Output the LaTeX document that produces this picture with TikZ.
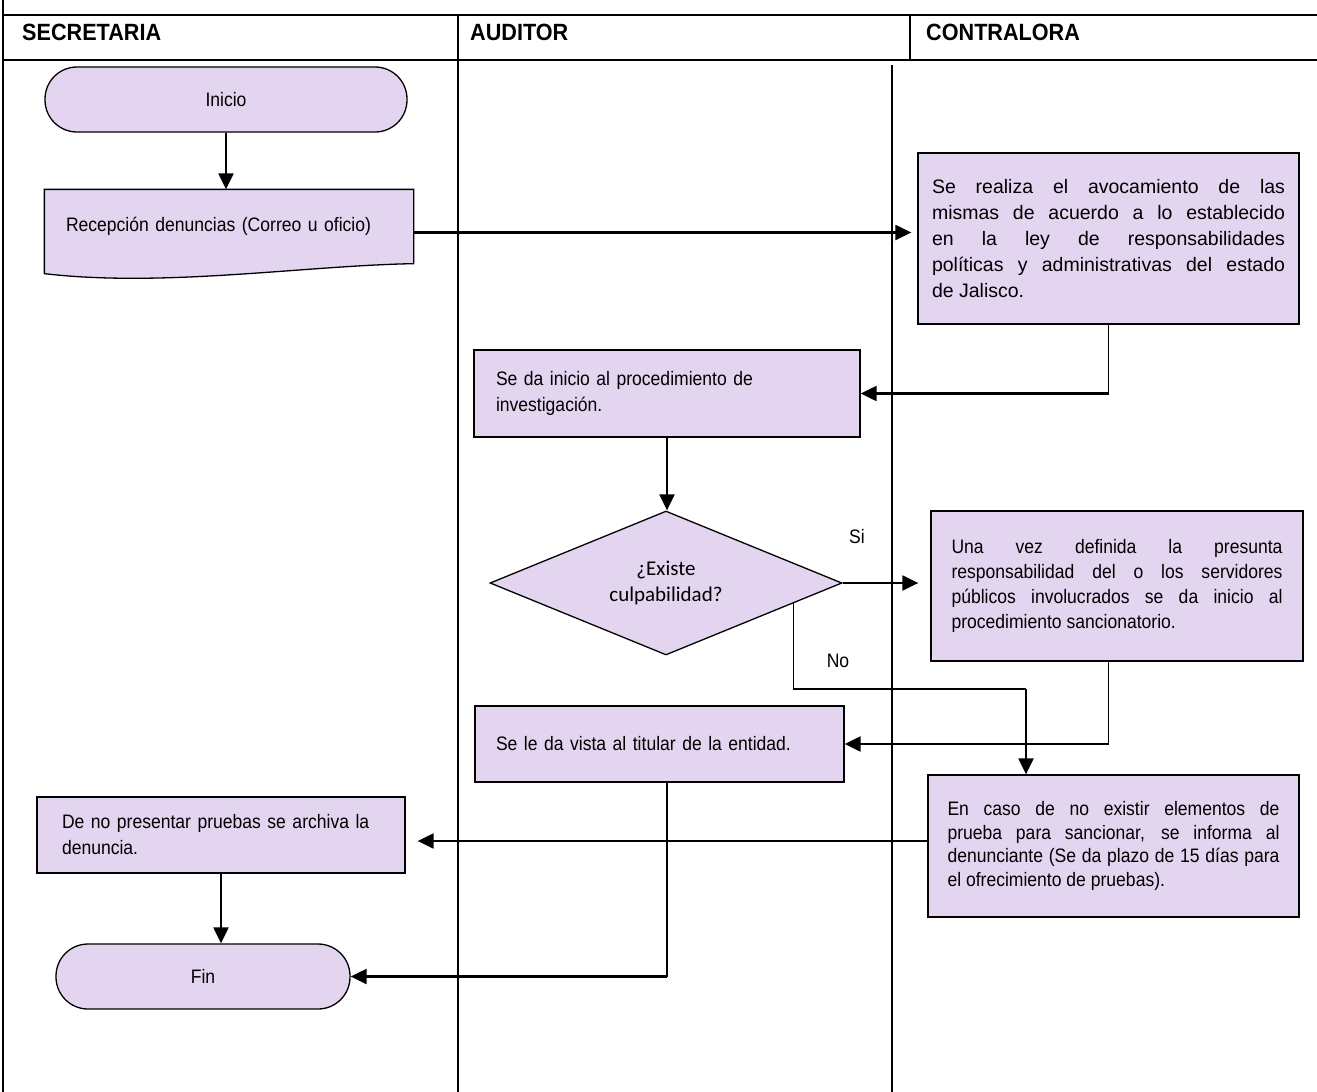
\documentclass[tikz,border=0pt]{standalone}
\usepackage{fontspec}
\setmainfont{Liberation Sans}[FakeStretch=0.9]
\newfontfamily\widefont{Liberation Sans}
\newfontfamily\headfont{Liberation Sans}[FakeStretch=0.92]
\newfontfamily\carlitofont{Carlito}
\usepackage{tikz}
\usetikzlibrary{
	arrows.meta,
	positioning,
	calc,
	shapes.geometric,
	backgrounds
}
\usepackage{xcolor}
\definecolor{lavanda}{RGB}{227,213,240}
\tolerance=9999
\hbadness=10000

\tikzset{
	procbox/.style={draw=black, line width=1.3pt, fill=lavanda, inner xsep=21pt, inner ysep=0pt,
		align=left, font=\fontsize{19.5}{26}\selectfont},
	justbox/.style={procbox, align=justify},
	termbox/.style={draw=black, line width=1.3pt, fill=lavanda, rounded corners=32pt,
		minimum height=65pt, inner sep=0pt, font=\fontsize{19.5}{25}\selectfont},
	decbox/.style={diamond, draw=black, line width=1.3pt, fill=lavanda, minimum width=352pt,
		minimum height=144pt, aspect=2.44, inner sep=0pt, align=center,
		font=\carlitofont\fontsize{21}{26}\selectfont},
	flow/.style={-{Triangle[length=16pt,width=15pt]}, line width=2.2pt},
	thinline/.style={line width=1.2pt},
	lane/.style={line width=1.5pt},
	lanetitle/.style={anchor=west, inner sep=0pt, font=\headfont\bfseries\fontsize{23.5}{26}\selectfont},
	lbl/.style={inner sep=0pt, font=\fontsize{19.5}{25}\selectfont}
}

\begin{document}
\begin{tikzpicture}[x=1pt,y=-1pt]
	\useasboundingbox (0,0) rectangle (1317,1092);
	
	% lanes
	\draw[lane] (3,0) -- (3,1092);
	\draw[lane, line width=2.5pt] (3,15) -- (1317,15);
	\draw[lane, line width=2.5pt] (3,60) -- (1317,60);
	\draw[lane] (458,15) -- (458,1092);
	\draw[lane] (910,15) -- (910,60);
	\draw[lane] (892,65) -- (892,1092);
	
	\node[lanetitle] (tsec) at (22,32) {SECRETARIA};
	\node[lanetitle] (taud) at (470,32) {AUDITOR};
	\node[lanetitle] (tcon) at (926,32) {CONTRALORA};
	
	% steps
	\node[termbox, minimum width=362pt] (inicio) at (226,99.5) {Inicio};
	\node[procbox, draw=none, fill=none, text width=326pt, minimum height=73pt] (recep) at (229,226.5)
		{Recepción denuncias (Correo u oficio)};
	\node[justbox, font=\widefont\fontsize{19.5}{26}\selectfont, text width=353pt, inner xsep=14pt,
		minimum height=171pt] (avoca) at (1108.5,238.5)
		{Se realiza el avocamiento de las\linebreak
		mismas de acuerdo a lo establecido\linebreak
		en la ley de responsabilidades\linebreak
		políticas y administrativas del estado\linebreak
		de Jalisco.};
	\node[procbox, text width=342pt, inner xsep=22pt, minimum height=87pt] (inv) at (667,393.5)
		{Se da inicio al procedimiento de\\investigación.};
	\node[decbox] (decis) at (666,583) {¿Existe\\culpabilidad?};
	\node[justbox, font=\fontsize{19.5}{25}\selectfont, text width=331pt, inner xsep=20.5pt,
		minimum height=150pt] (resp) at (1117,586)
		{Una vez definida la presunta\linebreak
		responsabilidad del o los servidores\linebreak
		públicos involucrados se da inicio al\linebreak
		procedimiento sancionatorio.};
	\node[procbox, text width=327pt, minimum height=76pt] (vista) at (659.5,744)
		{Se le da vista al titular de la entidad.};
	\node[justbox, font=\fontsize{19.5}{23.5}\selectfont, text width=332pt, inner xsep=19.5pt,
		minimum height=142pt] (concl) at (1113.5,846)
		{En caso de no existir elementos de\linebreak
		prueba para sancionar, se informa al\linebreak
		denunciante (Se da plazo de 15 días para\linebreak
		el ofrecimiento de pruebas).};
	\node[procbox, text width=318pt, inner xsep=25pt, minimum height=76pt] (archiva) at (221,835)
		{De no presentar pruebas se archiva la\\denuncia.};
	\node[termbox, minimum width=294pt] (fin) at (203,976.5) {Fin};
	
	\node[lbl] (si) at (857,537) {Si};
	\node[lbl] (no) at (838,661) {No};
	
	% document shape
	\begin{scope}[on background layer]
		\draw[line width=1.3pt, fill=lavanda] (recep.north west) -- (recep.north east) -- (recep.south east)
			.. controls ($(recep.south east)+(-110,2)$) and ($(recep.south west)+(120,24)$)
			.. ($(recep.south west)+(0,10)$) -- cycle;
	\end{scope}
	
	\coordinate (nostart) at ($(decis.east)!0.28!(decis.south)$);
	\coordinate (noturn) at (1026,689);
	\coordinate (avocaturn) at (avoca.south |- inv.east);
	\coordinate (respturn) at (avoca.south |- vista.east);
	\coordinate (vistaturn) at (inv.south |- fin.east);
	
	% connectors
	\draw[flow] (inicio.south) -- (inicio.south |- recep.north);
	\draw[flow, shorten >=6pt] ([yshift=-6pt]recep.east) -- ([yshift=-6pt]recep.east -| avoca.west);
	\draw[thinline] (avoca.south) -- (avocaturn);
	\draw[flow] (avocaturn) -- (inv.east);
	\draw[flow] (inv.south) -- (inv.south |- decis.north);
	\draw[flow, shorten >=12pt] (decis.east) -- (decis.east -| resp.west);
	\draw[thinline] (nostart) |- (noturn);
	\draw[flow] (noturn) -- (noturn |- concl.north);
	\draw[thinline] (resp.south -| avoca.south) -- (respturn);
	\draw[flow] (respturn) -- (vista.east);
	\draw[thinline] (vista.south -| inv.south) -- (vistaturn);
	\draw[flow] (vistaturn) -- (fin.east);
	\draw[flow, shorten >=12pt] ([yshift=5pt]concl.west) -- ([yshift=5pt]concl.west -| archiva.east);
	\draw[flow] (archiva.south) -- (archiva.south |- fin.north);
	
\end{tikzpicture}
\end{document}
